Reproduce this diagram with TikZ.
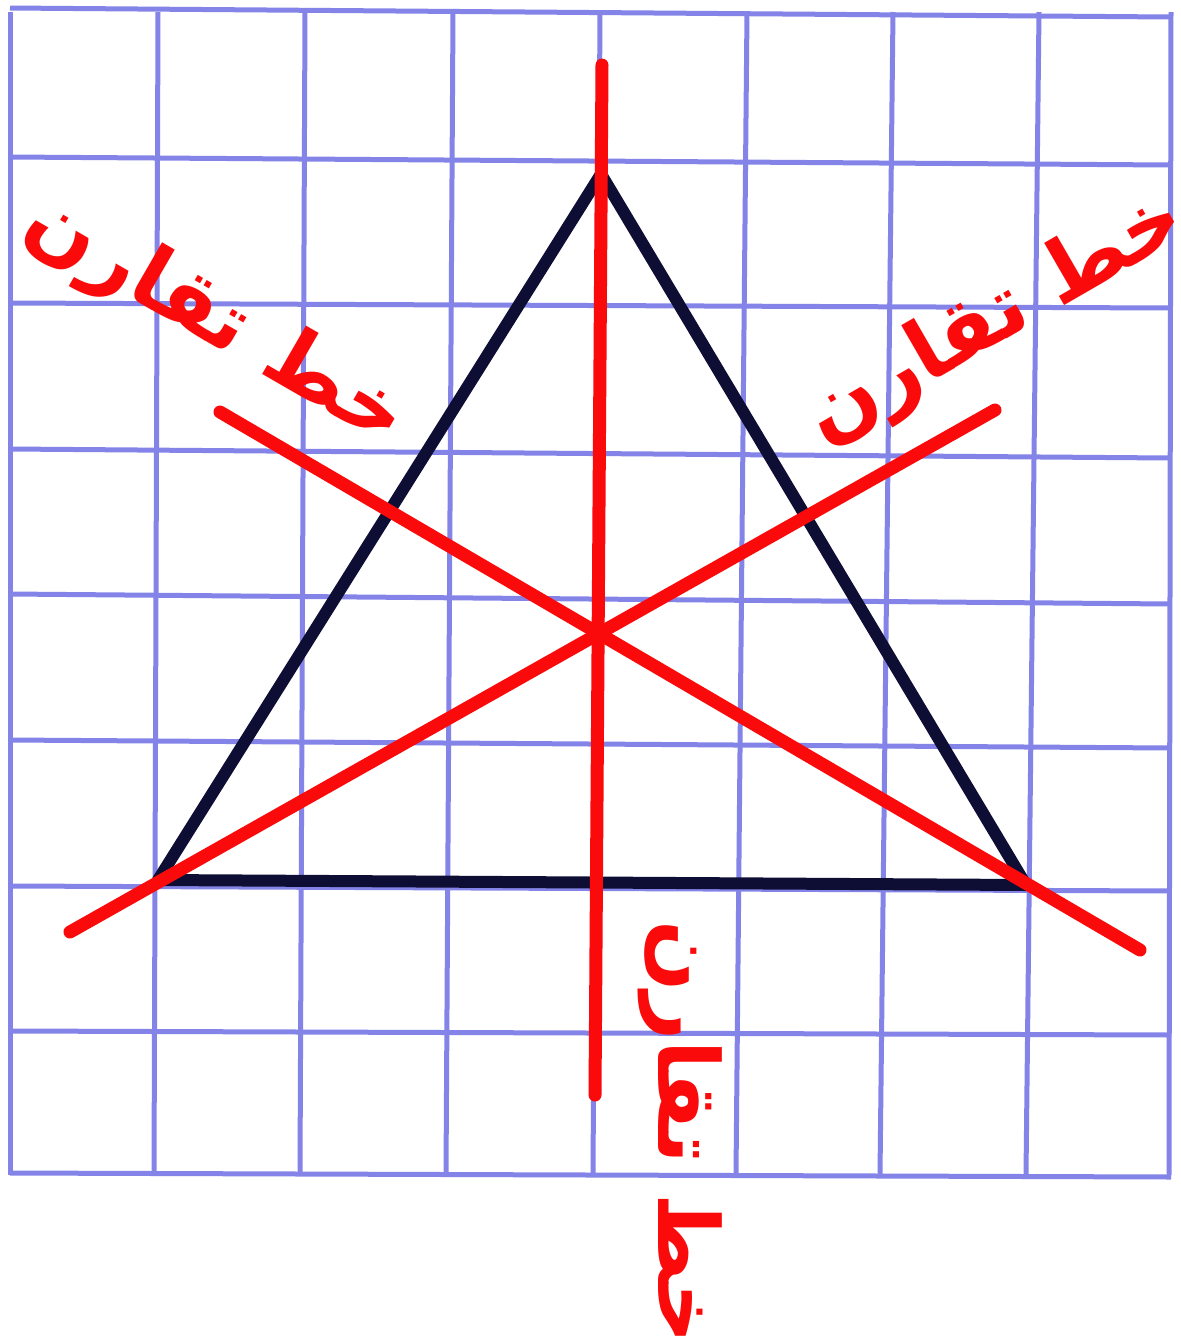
\documentclass[tikz,border=0pt]{standalone}
\usepackage{fontspec}
\newfontfamily\arabicfont[Script=Arabic]{DejaVu Sans}
\TeXXeTstate=1
\definecolor{gridblue}{RGB}{132,132,232}
\definecolor{navy}{RGB}{14,14,52}
\definecolor{symred}{RGB}{250,10,10}
\tikzset{
  gridline/.style={draw=gridblue, line width=2.5pt},
  tri/.style={draw=navy, line width=6pt, line join=round},
  axis/.style={draw=symred, line width=6.5pt, line cap=round},
  lbl/.style={text=symred, inner sep=0pt, font=\arabicfont\bfseries\fontsize{42}{46}\selectfont}
}
\begin{document}
\begin{tikzpicture}[x=0.5pt,y=-0.5pt]
\useasboundingbox (0,0) rectangle (1181,1341);
\fill[white] (0,0) rectangle (1181,1341);
% grid: vertical lines (top x / bottom x)
\foreach \t/\b in {10/10,158/154,305/300,453/446,600/593,747/736,893/880,1039/1026,1171/1169}
  \draw[gridline] (\t,12) -- (\b,1175);
% horizontal lines (left y / right y)
\foreach \l/\r in {8/17,157/165,303/308,449/458,594/604,740/748,886/891,1031/1035,1173/1177}
  \draw[gridline] (10,\l) -- (1171,\r);
% triangle
\coordinate (A) at (601,174);
\coordinate (B) at (158,880);
\coordinate (C) at (1026,885);
\draw[tri] (A) -- (B) -- (C) -- cycle;
% symmetry lines
\coordinate (v1) at (602,65);
\coordinate (v2) at (595,1095);
\coordinate (p1) at (220,412);
\coordinate (p2) at (1140,950);
\coordinate (q1) at (70,932);
\coordinate (q2) at (995,410);
\draw[axis] (v1) -- (v2);
\draw[axis] (p1) -- (p2);
\draw[axis] (q1) -- (q2);
% labels
\node[lbl, rotate=-30] (lblL) at (215,322) {\beginR خط تقارن\endR};
\node[lbl, rotate=30] (lblR) at (996,320) {\beginR خط تقارن\endR};
\node[lbl, rotate=-90] (lblB) at (680,1132) {\beginR خط تقارن\endR};
\end{tikzpicture}
\end{document}
